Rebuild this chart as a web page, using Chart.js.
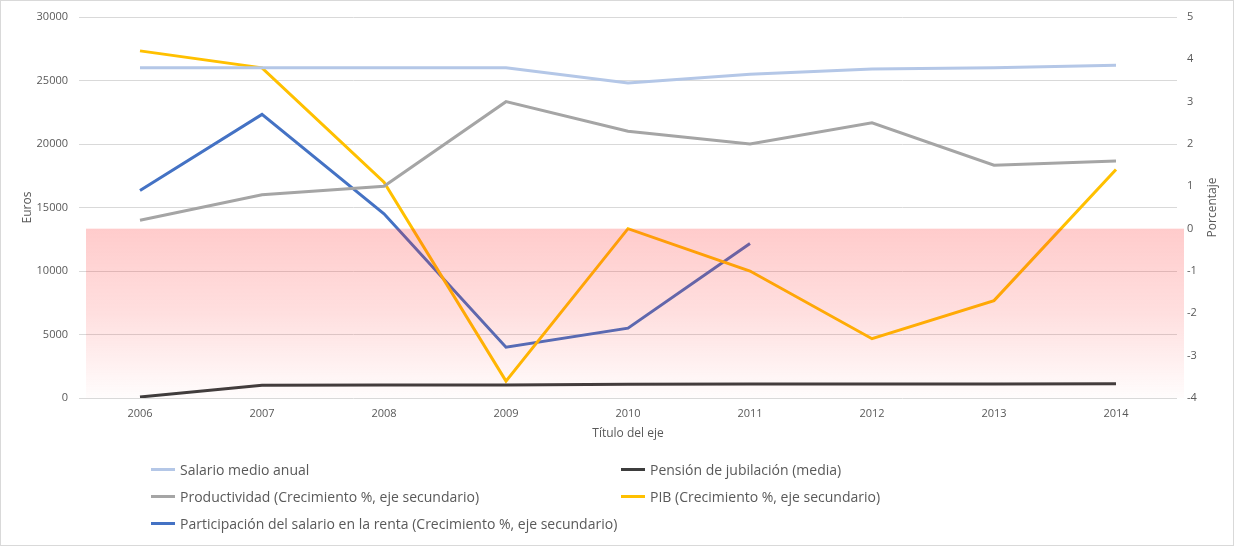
<!DOCTYPE html>
<html>
<head>
<meta charset="utf-8">
<script src="https://cdn.jsdelivr.net/npm/chart.js@4"></script>
<style>
  html, body { margin: 0; padding: 0; background: #fff; }
  #wrap { position: relative; width: 1234px; height: 546px; box-sizing: border-box; border: 1px solid #d9d9d9; overflow: hidden; }
  #c { position: absolute; left: 0; top: 0; }
  .lg { position: absolute; display: flex; align-items: center; font-family: "Open Sans", sans-serif; font-size: 14px; color: #595959; white-space: nowrap; }
  .lg span.sw { display: inline-block; width: 24px; height: 3px; margin-right: 5px; }
</style>
</head>
<body>
<div id="wrap">
  <canvas id="c" width="1234" height="546"></canvas>
</div>
<script>
const categories = ["2006","2007","2008","2009","2010","2011","2012","2013","2014"];
const salarioMedio = [26000, 26000, 26000, 26000, 24800, 25500, 25900, 26000, 26200];
const pension = [80, 1000, 1020, 1030, 1080, 1100, 1100, 1100, 1120];
const productividad = [0.2, 0.8, 1.0, 3.0, 2.3, 2.0, 2.5, 1.5, 1.6];
const pib = [4.2, 3.8, 1.1, -3.6, 0.0, -1.0, -2.6, -1.7, 1.4];
const participacion = [0.9, 2.7, 0.35, -2.8, -2.35, -0.35, null, null, null];
const seriesNames = [
  "Salario medio anual",
  "Pensión de jubilación (media)",
  "Productividad (Crecimiento %, eje secundario)",
  "PIB (Crecimiento %, eje secundario)",
  "Participación del salario en la renta (Crecimiento %, eje secundario)"
];
const negativeBand = [0, -4];
const axisTitles = { left: "Euros", right: "Porcentaje", bottom: "Título del eje" };

const colors = ["#B4C7E7", "#3D3D3D", "#A5A5A5", "#FFC000", "#4472C4"];
const FONT = "'Open Sans', sans-serif";
const TXT = "#595959";

const bandPlugin = {
  id: 'band',
  afterDatasetsDraw(chart) {
    const { ctx, chartArea } = chart;
    const y1 = chart.scales.y1;
    const top = y1.getPixelForValue(negativeBand[0]);
    const bot = y1.getPixelForValue(negativeBand[1]);
    const l = chartArea.left + 7, r = chartArea.right + 7;
    const g = ctx.createLinearGradient(0, top, 0, bot);
    g.addColorStop(0, 'rgba(255,40,40,0.24)');
    g.addColorStop(0.5, 'rgba(255,40,40,0.15)');
    g.addColorStop(1, 'rgba(255,40,40,0.01)');
    ctx.save();
    ctx.fillStyle = g;
    ctx.fillRect(l, top, r - l, bot - top);
    ctx.restore();
  },
  afterDraw(chart) {
    const { ctx, chartArea } = chart;
    const cy = (chartArea.top + chartArea.bottom) / 2;
    ctx.save();
    ctx.fillStyle = TXT;
    ctx.font = "12px " + FONT;
    ctx.textAlign = 'center';
    ctx.textBaseline = 'middle';
    ctx.save();
    ctx.translate(27, cy);
    ctx.rotate(-Math.PI / 2);
    ctx.fillText(axisTitles.left, 0, 0);
    ctx.restore();
    ctx.save();
    ctx.translate(1212, cy);
    ctx.rotate(-Math.PI / 2);
    ctx.fillText(axisTitles.right, 0, 0);
    ctx.restore();
    ctx.fillText(axisTitles.bottom, (chartArea.left + chartArea.right) / 2, 433);
    ctx.restore();
  }
};

const data = [salarioMedio, pension, productividad, pib, participacion];
const axes = ['y', 'y', 'y1', 'y1', 'y1'];

new Chart(document.getElementById('c'), {
  type: 'line',
  data: {
    labels: categories,
    datasets: data.map((d, i) => ({
      label: seriesNames[i],
      data: d,
      yAxisID: axes[i],
      borderColor: colors[i],
      backgroundColor: colors[i],
      borderWidth: 3,
      pointRadius: 0,
      pointHoverRadius: 0,
      tension: 0,
      fill: false,
      spanGaps: false
    }))
  },
  options: {
    responsive: false,
    animation: false,
    devicePixelRatio: 1,
    layout: { padding: { left: 0, right: 0, top: 16, bottom: 116 } },
    plugins: { legend: { display: false }, tooltip: { enabled: false } },
    scales: {
      x: {
        offset: true,
        grid: { display: false, drawTicks: false },
        border: { display: false },
        ticks: { color: TXT, font: { family: FONT, size: 11 }, padding: 9, maxRotation: 0 },
        afterFit(s) { s.height = 33; }
      },
      y: {
        position: 'left',
        min: 0, max: 30000,
        grid: { color: '#d9d9d9', drawTicks: false },
        border: { display: false },
        ticks: { stepSize: 5000, color: TXT, font: { family: FONT, size: 11 }, padding: 11, callback: v => String(v) },
        afterFit(s) { s.width = 78; s.paddingTop = 0; s.paddingBottom = 0; }
      },
      y1: {
        position: 'right',
        min: -4, max: 5,
        grid: { display: false, drawTicks: false },
        border: { display: false },
        ticks: { stepSize: 1, color: TXT, font: { family: FONT, size: 11 }, padding: 10, callback: v => String(v) },
        afterFit(s) { s.width = 58; s.paddingTop = 0; s.paddingBottom = 0; }
      }
    }
  },
  plugins: [bandPlugin]
});

// Legend (two columns), built from the series arrays
const wrap = document.getElementById('wrap');
const legendPos = [[150, 468], [620, 468], [150, 495], [620, 495], [150, 522]];
seriesNames.forEach((name, i) => {
  const el = document.createElement('div');
  el.className = 'lg';
  el.style.left = legendPos[i][0] + 'px';
  el.style.top = (legendPos[i][1] - 10) + 'px';
  el.style.height = '20px';
  const sw = document.createElement('span');
  sw.className = 'sw';
  sw.style.background = colors[i];
  el.appendChild(sw);
  el.appendChild(document.createTextNode(name));
  wrap.appendChild(el);
});
</script>
</body>
</html>
